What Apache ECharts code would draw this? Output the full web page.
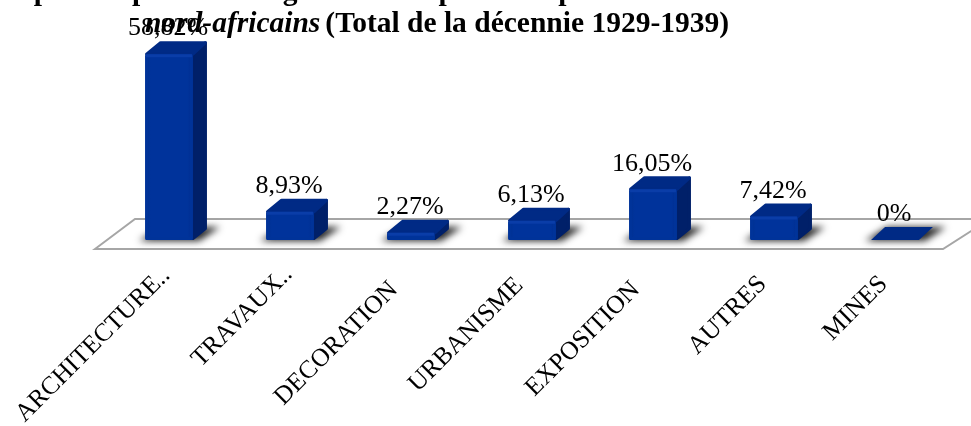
<!DOCTYPE html>
<html><head><meta charset="utf-8">
<style>html,body{margin:0;padding:0;background:#fff}#c{width:971px;height:426px}</style>
<script src="https://cdn.jsdelivr.net/npm/echarts@6/dist/echarts.min.js"></script>
</head><body><div id="c"></div>
<script>
const categories = ['ARCHITECTURE..','TRAVAUX..','DECORATION','URBANISME','EXPOSITION','AUTRES','MINES'];
const values = [58.82, 8.93, 2.27, 6.13, 16.05, 7.42, 0];
const valueLabels = ['58,82%','8,93%','2,27%','6,13%','16,05%','7,42%','0%'];
const labelShift = [4, 2, 24, 18, 24, 16, 16];
const titleLine1 = "Répartition pour la période des grands sites publics à partir des architectes et urbanistes";
const titleItalic = 'nord-africains';
const titleRest = '(Total de la décennie 1929-1939)';

const serif = '"Liberation Serif","Times New Roman",serif';
const DX = 14, DY = -13, OFF = 2000;
const chart = echarts.init(document.getElementById('c'), null, {renderer:'canvas'});

function renderBar(params, api) {
  const i = api.value(0), v = api.value(1);
  const base = api.coord([i, 0]), top = api.coord([i, v]);
  const w = api.size([1, 0])[0] * 0.396;
  const l = base[0] - w / 2, r = base[0] + w / 2, b = base[1], t = top[1];
  const children = [{
    type:'polygon', z2:1,
    shape:{points:[[l-6-OFF,b+1],[r+6-OFF,b+1],[r+27-OFF,b-13],[l+16-OFF,b-13]]},
    style:{fill:'#000', shadowBlur:7, shadowOffsetX:OFF, shadowColor:'rgba(40,40,40,1)'}
  }];
  if (v > 0) {
    const line = {lineJoin:'round', lineWidth:3};
    children.push({type:'polygon', z2:2,
      shape:{points:[[r,b-1.5],[r+DX-1.5,b+DY+1.5],[r+DX-1.5,t+DY+1.5],[r,t]]},
      style:Object.assign({fill:'#002069', stroke:'#002069'}, line)});
    children.push({type:'polygon', z2:3,
      shape:{points:[[l+1.5,t],[r,t],[r+DX-1.5,t+DY+1.5],[l+DX+1.5,t+DY+1.5]]},
      style:Object.assign({fill:'#002a85', stroke:'#002a85'}, line)});
    children.push({type:'polygon', z2:4,
      shape:{points:[[l+1.5,t+1.5],[r-1.5,t+1.5],[r-1.5,b-1.5],[l+1.5,b-1.5]]},
      style:Object.assign({stroke:'#003399', fill:new echarts.graphic.LinearGradient(0,0,1,0,[
        {offset:0,color:'#00308f'},{offset:0.12,color:'#00339b'},{offset:0.88,color:'#00339b'},{offset:1,color:'#002f90'}])}, line)});
    children.push({type:'rect', z2:5,
      shape:{x:l+1,y:t,width:w-2,height:Math.min(3,b-t)},
      style:{fill:'#0a3da8'}});
  } else {
    children.push({type:'polygon', z2:3,
      shape:{points:[[l,b],[r,b],[r+DX,b+DY],[l+DX,b+DY]]},
      style:{fill:'#002a85'}});
  }
  children.push({type:'text', z2:10,
    style:{x:base[0]-1, y:t-25.5, text:valueLabels[i], font:'26px '+serif, fill:'#000',
      align:'center', verticalAlign:'middle'}});
  return {type:'group', children};
}

chart.setOption({
  animation:false,
  backgroundColor:'#fff',
  grid:{left:108.5, right:15.5, top:50.4, bottom:186, outerBoundsMode:'none'},
  title:{
    left:432, top:-29, textAlign:'center',
    text:'{b|'+titleLine1+'}\n{i|'+titleItalic+'} {b|'+titleRest+'}',
    textStyle:{rich:{
      b:{fontFamily:serif,fontWeight:'bold',fontSize:29.5,lineHeight:32,color:'#000'},
      i:{fontFamily:serif,fontWeight:'bold',fontStyle:'italic',fontSize:29.5,lineHeight:32,color:'#000'}
    }}
  },
  graphic:[{type:'polygon', z:-1, silent:true,
    shape:{points:[[95,249],[135,219],[990,219],[943,249]]},
    style:{fill:'#fff', stroke:'#a6a6a6', lineWidth:2}}],
  xAxis:{type:'category',
    data:categories.map((c,i)=>({value:c, textStyle:{padding:[0,labelShift[i],0,0]}})),
    axisLine:{show:false}, axisTick:{show:false},
    axisLabel:{interval:0, rotate:45, margin:29, color:'#000', fontFamily:serif, fontSize:25.5}},
  yAxis:{type:'value', min:0, max:60, show:false},
  series:[{type:'custom', renderItem:renderBar, clip:false,
    encode:{x:0,y:1},
    data:values.map((v,i)=>[i,v])}]
});
</script></body></html>
